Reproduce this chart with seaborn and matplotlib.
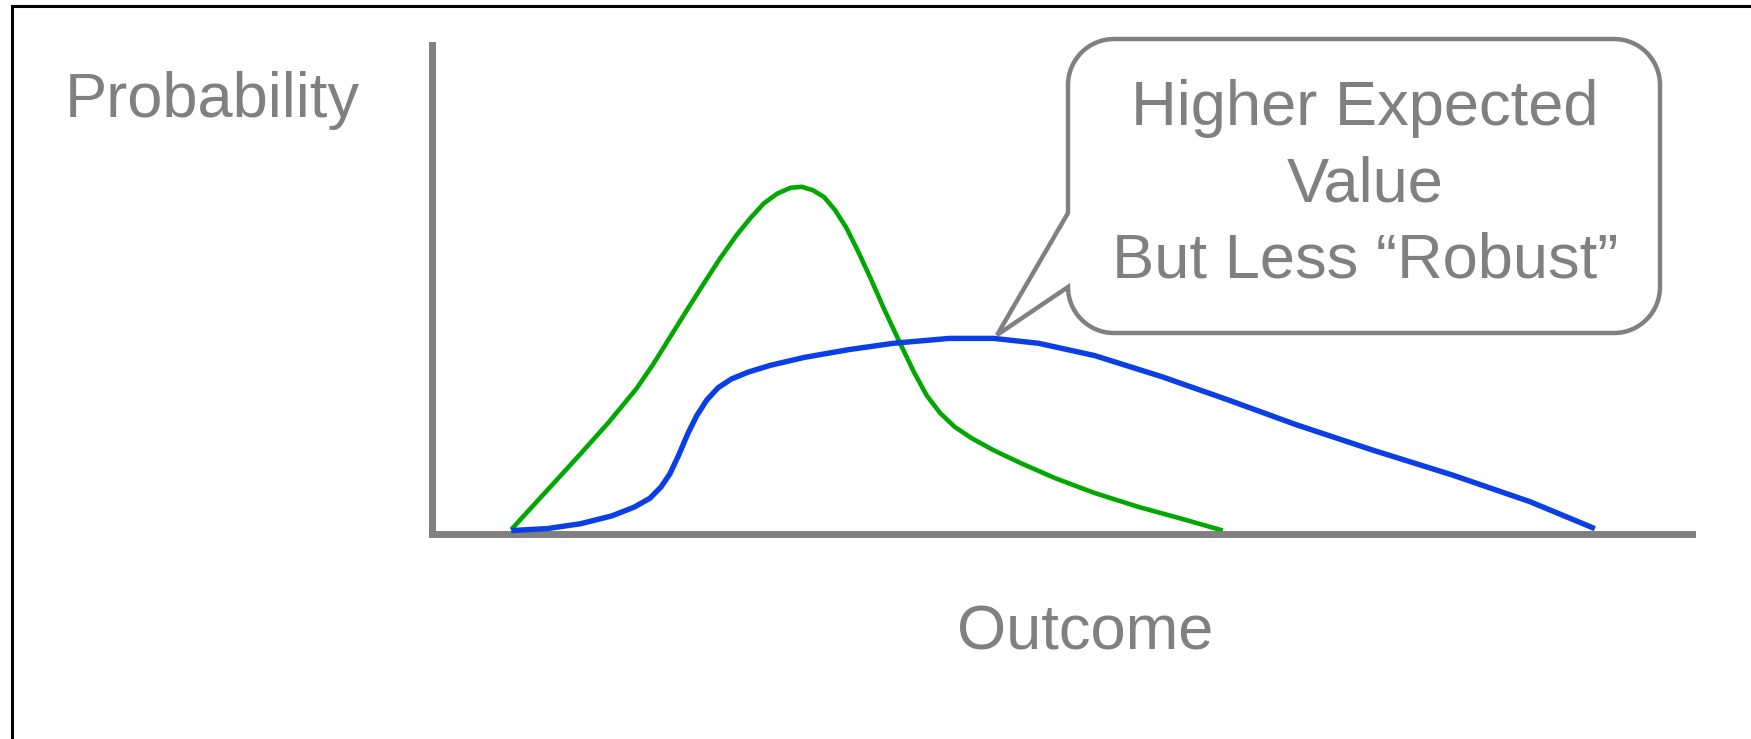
import numpy as np
import pandas as pd
import matplotlib
matplotlib.use("Agg")
import matplotlib.pyplot as plt
import matplotlib.transforms as mtransforms
from matplotlib.path import Path
from matplotlib.patches import PathPatch
from matplotlib.lines import Line2D
import seaborn as sns

# Outcome / probability readings for the two distributions
robust_outcome = [0.629, 0.824, 1.002, 1.179, 1.401, 1.622, 1.755, 1.888, 2.021, 2.154,
                  2.287, 2.420, 2.527, 2.633, 2.739, 2.846, 2.934, 3.023, 3.112, 3.200,
                  3.289, 3.378, 3.484, 3.590, 3.706, 3.821, 3.927, 4.034, 4.149, 4.282,
                  4.459, 4.681, 4.947, 5.257, 5.612, 5.966, 6.277]
robust_prob = [0.009, 0.064, 0.114, 0.164, 0.228, 0.297, 0.347, 0.402, 0.457, 0.511,
               0.564, 0.612, 0.646, 0.676, 0.696, 0.708, 0.710, 0.703, 0.689, 0.662,
               0.626, 0.580, 0.521, 0.459, 0.395, 0.333, 0.283, 0.247, 0.219, 0.196,
               0.171, 0.144, 0.114, 0.084, 0.055, 0.030, 0.007]

risky_outcome = [0.629, 0.913, 1.179, 1.427, 1.605, 1.729, 1.817, 1.888, 1.959, 2.030,
                 2.101, 2.181, 2.270, 2.376, 2.509, 2.686, 2.952, 3.307, 3.661, 4.105,
                 4.459, 4.814, 5.257, 5.789, 6.321, 6.853, 7.473, 8.094, 8.715, 9.229]
risky_prob = [0.007, 0.011, 0.021, 0.037, 0.055, 0.073, 0.096, 0.123, 0.162, 0.205,
              0.242, 0.274, 0.299, 0.317, 0.331, 0.345, 0.361, 0.377, 0.390, 0.400,
              0.400, 0.390, 0.365, 0.322, 0.274, 0.224, 0.171, 0.121, 0.066, 0.011]

series_names = ["robust", "risky"]
series_colors = {"robust": "#00a800", "risky": "#0a3fe6"}
series_widths = {"robust": 3.3, "risky": 3.9}

callout_lines = ["Higher Expected", "Value", "But Less \u201cRobust\u201d"]
x_label = "Outcome"
y_label = "Probability"

W, H, DPI = 1751, 739, 100
GRAY = "#808080"
FONT = "Liberation Sans"
FS = 45.5

sns.set_theme(style="white")
plt.rcParams["font.family"] = [FONT, "DejaVu Sans"]

df = pd.concat([
    pd.DataFrame({"outcome": robust_outcome, "probability": robust_prob, "series": "robust"}),
    pd.DataFrame({"outcome": risky_outcome, "probability": risky_prob, "series": "risky"}),
], ignore_index=True)

fig = plt.figure(figsize=(W / DPI, H / DPI), dpi=DPI)
fig.patch.set_facecolor("white")

# pixel coordinates measured from the top-left corner
pix = mtransforms.Affine2D().scale(1 / W, -1 / H).translate(0, 1) + fig.transFigure

ax_left, ax_right, ax_top, ax_bottom = 432, 1692, 45, 534
ax = fig.add_axes([ax_left / W, 1 - ax_bottom / H,
                   (ax_right - ax_left) / W, (ax_bottom - ax_top) / H])
ax.set_facecolor("none")

for name in series_names:
    sub = df[df["series"] == name]
    line_ax = sns.lineplot(data=sub, x="outcome", y="probability", ax=ax,
                           color=series_colors[name], linewidth=series_widths[name],
                           estimator=None, sort=False, legend=False,
                           zorder=3 if name == "risky" else 2)
for ln in ax.get_lines():
    ln.set_solid_joinstyle("round")
    ln.set_solid_capstyle("butt")

ax.set_xlim(0, 10)
ax.set_ylim(0, 1)
ax.set_xticks([])
ax.set_yticks([])
ax.set_xlabel("")
ax.set_ylabel("")
for side in ["top", "right"]:
    ax.spines[side].set_visible(False)
for side in ["left", "bottom"]:
    ax.spines[side].set_color(GRAY)
    ax.spines[side].set_linewidth(5.0)

# axis titles
fig.text(65, 117, y_label, transform=pix, fontsize=FS, color=GRAY,
         ha="left", va="baseline", family=FONT)
fig.text(1085, 650, x_label, transform=pix, fontsize=FS, color=GRAY,
         ha="center", va="baseline", family=FONT)

# speech-bubble callout with a tail pointing at the flatter curve's peak
L, R, T, B, r = 1068, 1660, 39, 333, 46
k = 0.5523 * r
tail_top, tip = 213, (997, 335)
verts = [
    (L + r, T),
    (R - r, T),
    (R - r + k, T), (R, T + r - k), (R, T + r),
    (R, B - r),
    (R, B - r + k), (R - r + k, B), (R - r, B),
    (L + r, B),
    (L + r - k, B), (L, B - r + k), (L, B - r),
    tip,
    (L, tail_top),
    (L, T + r),
    (L, T + r - k), (L + r - k, T), (L + r, T),
    (L + r, T),
]
codes = [Path.MOVETO, Path.LINETO,
         Path.CURVE4, Path.CURVE4, Path.CURVE4,
         Path.LINETO,
         Path.CURVE4, Path.CURVE4, Path.CURVE4,
         Path.LINETO,
         Path.CURVE4, Path.CURVE4, Path.CURVE4,
         Path.LINETO, Path.LINETO, Path.LINETO,
         Path.CURVE4, Path.CURVE4, Path.CURVE4,
         Path.CLOSEPOLY]
bubble = PathPatch(Path(verts, codes), transform=pix, facecolor="white",
                   edgecolor=GRAY, linewidth=3.2, joinstyle="miter", zorder=5)
fig.add_artist(bubble)

for i, line in enumerate(callout_lines):
    fig.text(1365, 125 + 76 * i, line, transform=pix, fontsize=FS, color=GRAY,
             ha="center", va="baseline", family=FONT, zorder=6)

# frame edges along the left and top
fig.add_artist(Line2D([11.5, 11.5, W + 2], [H + 2, 6, 6], transform=pix,
                      color="black", linewidth=2.2, solid_joinstyle="miter"))

fig.savefig("out.png", dpi=DPI, facecolor="white")
